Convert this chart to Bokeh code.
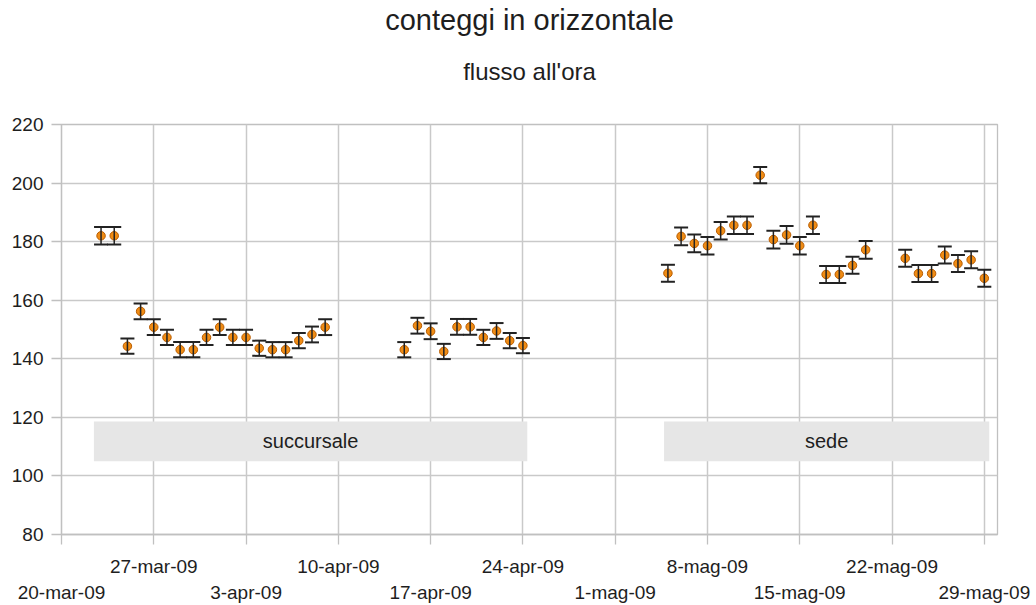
import pandas as pd
from bokeh.plotting import figure
from bokeh.models import (ColumnDataSource, Range1d, FixedTicker, LinearAxis,
                          Whisker, TeeHead, Title)
from bokeh.core.properties import value
from bokeh.embed import file_html
from bokeh.resources import INLINE

# ---------------- data ----------------
succ_dates = ["2009-03-23", "2009-03-24", "2009-03-25", "2009-03-26", "2009-03-27",
              "2009-03-28", "2009-03-29", "2009-03-30", "2009-03-31", "2009-04-01",
              "2009-04-02", "2009-04-03", "2009-04-04", "2009-04-05", "2009-04-06",
              "2009-04-07", "2009-04-08", "2009-04-09",
              "2009-04-15", "2009-04-16", "2009-04-17", "2009-04-18", "2009-04-19",
              "2009-04-20", "2009-04-21", "2009-04-22", "2009-04-23", "2009-04-24"]
succ_values = [182, 182, 144.3, 156.2, 150.8, 147.3, 143.1, 143.1, 147.3, 150.8,
               147.3, 147.3, 143.6, 143.1, 143.1, 146.2, 148.3, 150.8,
               143.1, 151.3, 149.4, 142.5, 150.9, 150.9, 147.3, 149.5, 146.2, 144.5]
succ_err = [3.0, 3.0, 2.6, 2.7, 2.7, 2.6, 2.6, 2.6, 2.6, 2.7,
            2.6, 2.6, 2.6, 2.6, 2.6, 2.6, 2.7, 2.7,
            2.6, 2.7, 2.7, 2.6, 2.7, 2.7, 2.6, 2.7, 2.6, 2.6]

sede_dates = ["2009-05-05", "2009-05-06", "2009-05-07", "2009-05-08", "2009-05-09",
              "2009-05-10", "2009-05-11", "2009-05-12", "2009-05-13", "2009-05-14",
              "2009-05-15", "2009-05-16", "2009-05-17", "2009-05-18", "2009-05-19",
              "2009-05-20",
              "2009-05-23", "2009-05-24", "2009-05-25", "2009-05-26", "2009-05-27",
              "2009-05-28", "2009-05-29"]
sede_values = [169.2, 181.8, 179.4, 178.6, 183.7, 185.6, 185.6, 202.7, 180.7, 182.3,
               178.6, 185.6, 168.8, 168.8, 171.9, 177.2,
               174.3, 169.1, 169.1, 175.4, 172.5, 173.8, 167.5]
sede_err = [2.9, 3.0, 3.0, 3.0, 3.0, 3.0, 3.0, 2.8, 3.0, 3.0,
            3.0, 3.0, 2.9, 2.9, 2.9, 3.0,
            2.9, 2.9, 2.9, 2.9, 2.9, 2.9, 2.9]

group_labels = ["succursale", "sede"]
group_start = ["2009-03-22 11:00", "2009-05-04 17:00"]
group_end = ["2009-04-24 08:00", "2009-05-29 09:00"]

tick_dates = ["2009-03-20", "2009-03-27", "2009-04-03", "2009-04-10", "2009-04-17",
              "2009-04-24", "2009-05-01", "2009-05-08", "2009-05-15", "2009-05-22",
              "2009-05-29"]
tick_labels = ["20-mar-09", "27-mar-09", "3-apr-09", "10-apr-09", "17-apr-09",
               "24-apr-09", "1-mag-09", "8-mag-09", "15-mag-09", "22-mag-09",
               "29-mag-09"]
y_ticks = [80, 100, 120, 140, 160, 180, 200, 220]

title_text = "conteggi in orizzontale"
subtitle_text = "flusso all'ora"

# ---------------- build ----------------
FONT = "Liberation Sans"
TXT = "#1e1e1e"
GRID = "#c9c9c9"

dates = pd.to_datetime(succ_dates + sede_dates)
vals = succ_values + sede_values
errs = succ_err + sede_err
src = ColumnDataSource(dict(
    x=dates, y=vals,
    lower=[v - e for v, e in zip(vals, errs)],
    upper=[v + e for v, e in zip(vals, errs)],
))

gs = pd.to_datetime(group_start)
ge = pd.to_datetime(group_end)
band_src = ColumnDataSource(dict(left=gs, right=ge, mid=gs + (ge - gs) / 2,
                                 label=group_labels))

tick_ms = [int(pd.Timestamp(d).value // 10**6) for d in tick_dates]

p = figure(width=1036, height=605, x_axis_type="datetime",
           x_range=Range1d(pd.Timestamp("2009-03-20"), pd.Timestamp("2009-05-30")),
           y_range=Range1d(80, 220),
           output_backend="svg", toolbar_location=None,
           min_border_left=61, min_border_right=39, min_border_top=124,
           min_border_bottom=69)

p.background_fill_color = "white"
p.border_fill_color = "white"
p.outline_line_color = "#c0c0c0"
p.outline_line_width = 1.3

# titles (main title outermost, subtitle next to the plot)
p.title.text = title_text
p.title.align = "center"
p.title.text_font = FONT
p.title.text_font_size = "29px"
p.title.text_font_style = "normal"
p.title.text_color = TXT
p.title.standoff = -40
p.add_layout(Title(text=subtitle_text, align="center", text_font=FONT,
                   text_font_size="24px", text_font_style="normal",
                   text_color=TXT, standoff=80), "above")

# x axis (upper row of labels, with all ticks)
xa = p.xaxis[0]
xa.ticker = FixedTicker(ticks=tick_ms)
xa.major_label_overrides = {t: (lab if i % 2 == 1 else "") for i, (t, lab) in enumerate(zip(tick_ms, tick_labels))}
xa.major_tick_out = 10
xa.major_tick_in = 0
xa.minor_tick_out = 0
xa.minor_tick_in = 0
xa.major_tick_line_color = "#c0c0c0"
xa.major_tick_line_width = 1.3
xa.axis_line_color = "#c0c0c0"
xa.axis_line_width = 1.3
xa.major_label_text_font = FONT
xa.major_label_text_font_size = "19px"
xa.major_label_text_color = TXT
xa.major_label_standoff = 11

# second x axis (lower row of labels)
xb = LinearAxis(ticker=FixedTicker(ticks=[t for i, t in enumerate(tick_ms) if i % 2 == 0]))
xb.major_label_overrides = {t: lab for i, (t, lab) in enumerate(zip(tick_ms, tick_labels)) if i % 2 == 0}
xb.major_tick_out = 0
xb.major_tick_in = 0
xb.minor_tick_out = 0
xb.minor_tick_in = 0
xb.axis_line_color = None
xb.major_label_text_font = FONT
xb.major_label_text_font_size = "19px"
xb.major_label_text_color = TXT
xb.major_label_standoff = 2
p.add_layout(xb, "below")

# y axis
ya = p.yaxis[0]
ya.ticker = FixedTicker(ticks=y_ticks)
ya.major_tick_out = 10
ya.major_tick_in = 0
ya.minor_tick_out = 0
ya.minor_tick_in = 0
ya.major_tick_line_color = "#c0c0c0"
ya.major_tick_line_width = 1.3
ya.axis_line_color = "#c0c0c0"
ya.axis_line_width = 1.3
ya.major_label_text_font = FONT
ya.major_label_text_font_size = "19px"
ya.major_label_text_color = TXT
ya.major_label_standoff = 8

# grids
p.xgrid.grid_line_color = GRID
p.xgrid.grid_line_width = 1.5
p.ygrid.grid_line_color = GRID
p.ygrid.grid_line_width = 1.5
p.ygrid.ticker = FixedTicker(ticks=y_ticks)

# group bands
p.quad(left="left", right="right", bottom=105, top=118.6, source=band_src,
       fill_color="#e6e6e6", line_color=None)
p.text(x="mid", y=111.8, text="label", source=band_src, text_align="center",
       text_baseline="middle", text_font=value(FONT), text_font_size="20px",
       text_color=TXT)

# points and error bars
p.scatter("x", "y", source=src, size=8.5, fill_color="#f08c14",
          line_color="#b85c00", line_width=1)
w = Whisker(base="x", upper="upper", lower="lower", source=src,
            line_color="#222222", line_width=1.5, level="overlay",
            upper_head=TeeHead(size=14, line_color="#222222", line_width=2),
            lower_head=TeeHead(size=14, line_color="#222222", line_width=2))
p.add_layout(w)

open("out.html", "w").write(file_html(p, INLINE))
